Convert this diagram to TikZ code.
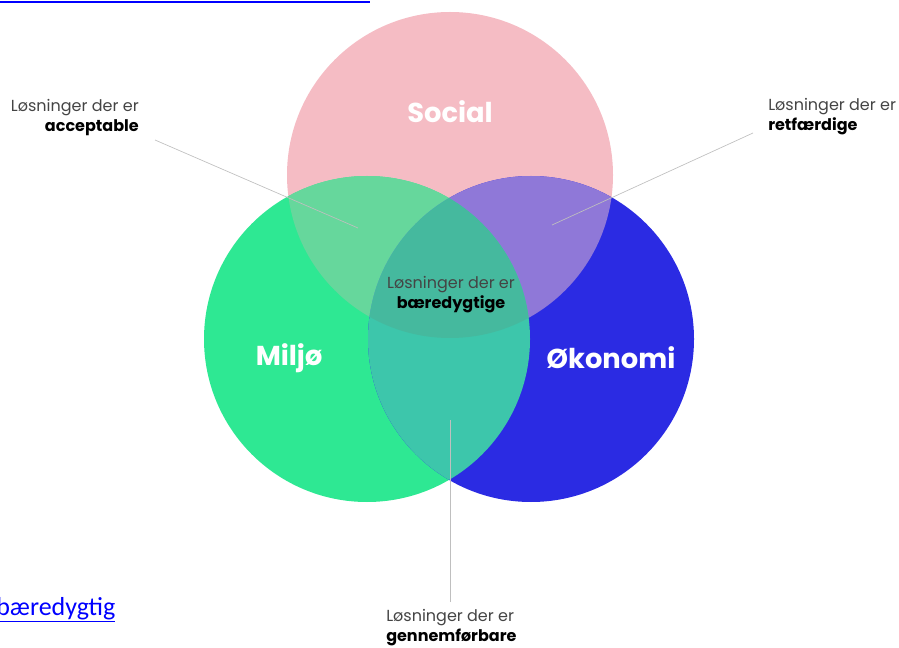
\documentclass[tikz,border=0pt]{standalone}
\usepackage{fontspec}
\setmainfont{Poppins}
\newfontfamily\linkfont{Carlito}
\definecolor{cpink}{HTML}{F5BCC4}
\definecolor{cgreen}{HTML}{2EE893}
\definecolor{cblue}{HTML}{2B2BE3}
\definecolor{cpg}{HTML}{66D79C}
\definecolor{cpb}{HTML}{8F78D8}
\definecolor{cgb}{HTML}{3DC6AB}
\definecolor{call}{HTML}{45B99E}
\definecolor{labgray}{HTML}{444444}
\definecolor{linkblue}{HTML}{0000FF}
\tikzset{
  title/.style={font=\fontsize{20.5}{24}\selectfont\bfseries, text=white, inner sep=0pt},
  lab/.style={font=\fontsize{12}{15}\selectfont, text=labgray, inner sep=0pt},
  leader/.style={draw=black!25, line width=0.5pt},
}
\begin{document}
\begin{tikzpicture}[x=0.75pt,y=-0.75pt]
\def\R{122.25pt}
\useasboundingbox (0,0) rectangle (899,648);
% circles
\coordinate (cs) at (450,175);
\coordinate (cm) at (367,339);
\coordinate (ce) at (531,339);
\fill[cpink] (cs) circle[radius=\R];
\fill[cgreen] (cm) circle[radius=\R];
\fill[cblue] (ce) circle[radius=\R];
\begin{scope}
  \clip (cs) circle[radius=\R];
  \fill[cpg] (cm) circle[radius=\R];
  \fill[cpb] (ce) circle[radius=\R];
\end{scope}
\begin{scope}
  \clip (cm) circle[radius=\R];
  \fill[cgb] (ce) circle[radius=\R];
  \clip (cs) circle[radius=\R];
  \fill[call] (ce) circle[radius=\R];
\end{scope}
% titles
\node[title] (social) at (450,112) {Social};
\node[title] (miljo) at (289,358) {Miljø};
\node[title] (okonomi) at (611,358) {Økonomi};
% labels
\node[lab, anchor=north east, align=right] (acc) at (139,99) {Løsninger der er\\\textbf{\color{black}acceptable}};
\node[lab, anchor=north west, align=left] (ret) at (768,98) {Løsninger der er\\\textbf{\color{black}retfærdige}};
\node[lab, anchor=north, align=center] (mid) at (451,276) {Løsninger der er\\\textbf{\color{black}bæredygtige}};
\node[lab, anchor=north west, align=left] (gen) at (386,609) {Løsninger der er\\\textbf{\color{black}gennemførbare}};
% leader lines
\coordinate (accA) at (155,140);
\coordinate (accB) at (358,228);
\coordinate (retA) at (753,133);
\coordinate (retB) at (552,225);
\coordinate (genA) at (450,602);
\coordinate (genB) at (450,420);
\draw[leader] (accA) -- (accB);
\draw[leader] (retA) -- (retB);
\draw[leader] (genA) -- (genB);
% document links (cut off)
\coordinate (lnkA) at (0,2);
\coordinate (lnkB) at (370,2);
\draw[linkblue, line width=1.5pt] (lnkA) -- (lnkB);
\node[font=\linkfont\fontsize{19.5}{22}\selectfont, text=linkblue, anchor=base west, inner sep=0pt] (baer) at (-4,615) {\underline{bæredygtig}};
\end{tikzpicture}
\end{document}
